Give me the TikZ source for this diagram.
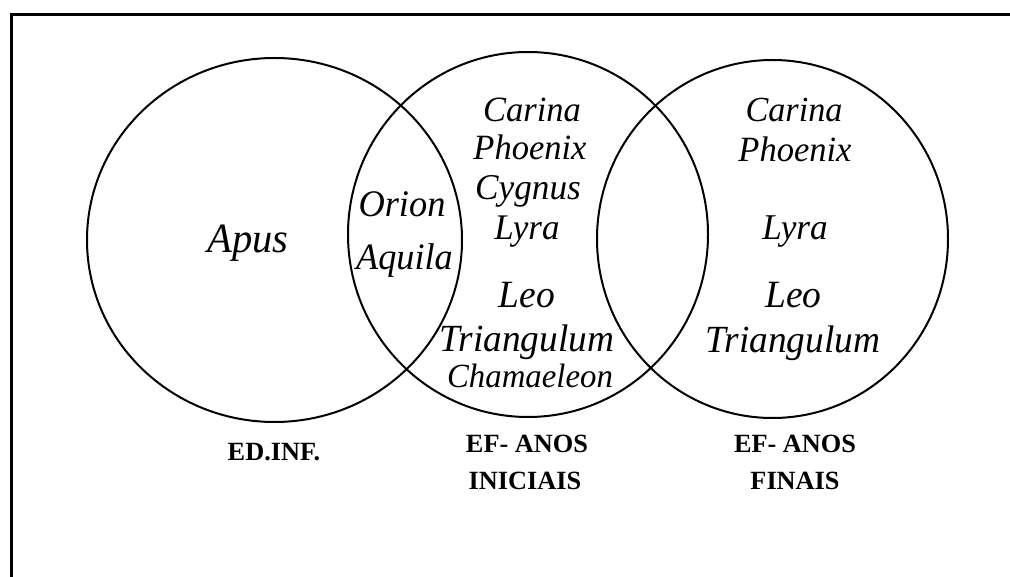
\documentclass[tikz,border=0pt]{standalone}
\usepackage{fontspec}
\setmainfont{Liberation Serif}
\newcommand{\vst}[1]{\scalebox{1}[1.03]{#1}}
\begin{document}
\begin{tikzpicture}[x=1pt,y=-1pt,
  setline/.style={line width=2pt},
  framel/.style={line width=2.3pt},
  itxt/.style={font=\fontsize{#1}{40}\selectfont\itshape, anchor=base, inner sep=0pt},
  btxt/.style={font=\fontsize{26.3}{30}\selectfont\bfseries, anchor=base, inner sep=0pt}]
\useasboundingbox (0,0) rectangle (1010,577);
\draw[framel] (11.5,14.5) rectangle (1040,600);
% sets
\draw[setline] (274.5,240) ellipse [x radius=187.5, y radius=182];
\draw[setline] (528,234.5) ellipse [x radius=180, y radius=182.5];
\draw[setline] (772.5,239) ellipse [x radius=175.5, y radius=179];
% ED.INF.
\node[itxt=40.5] (apus) at (248,253) {\vst{Apus}};
\node[itxt=36.4] (orion) at (402,217) {\vst{Orion}};
\node[itxt=36.2] (aquila) at (404.5,270) {\vst{Aquila}};
% EF anos iniciais
\node[itxt=34.5] (carina1) at (532,122) {\vst{Carina}};
\node[itxt=34.5] (phoenix1) at (530,160) {\vst{Phoenix}};
\node[itxt=35.2] (cygnus) at (528,200) {\vst{Cygnus}};
\node[itxt=35] (lyra1) at (527,240) {\vst{Lyra}};
\node[itxt=37.5] (leo1) at (527,308) {\vst{Leo}};
\node[itxt=37.3] (tri1) at (527,352) {\vst{Triangulum}};
\node[itxt=32.8] (cham) at (530,388) {\vst{Chamaeleon}};
% EF anos finais
\node[itxt=34.2] (carina2) at (794,122) {\vst{Carina}};
\node[itxt=34.5] (phoenix2) at (795,162) {\vst{Phoenix}};
\node[itxt=35.2] (lyra2) at (795,240) {\vst{Lyra}};
\node[itxt=37.5] (leo2) at (793.5,308) {\vst{Leo}};
\node[itxt=37.3] (tri2) at (793,353) {\vst{Triangulum}};
% labels
\node[btxt] (lab1) at (274,460) {ED.INF.};
\node[btxt] (lab2a) at (527,453) {EF- ANOS};
\node[btxt] (lab2b) at (525,489) {INICIAIS};
\node[btxt] (lab3a) at (795,453) {EF- ANOS};
\node[btxt] (lab3b) at (795,489) {FINAIS};
\end{tikzpicture}
\end{document}
